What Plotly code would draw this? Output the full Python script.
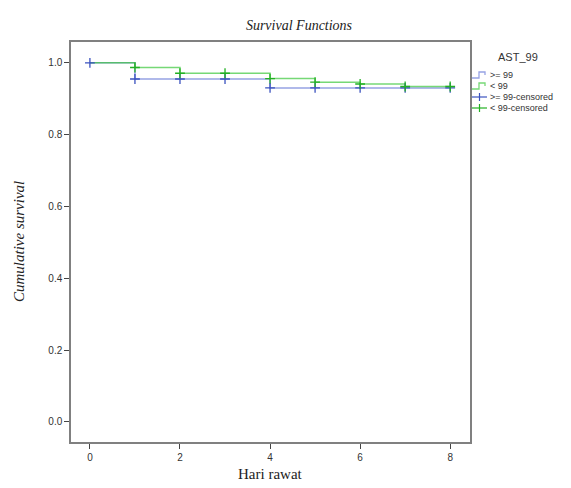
import plotly.graph_objects as go

# Data
blue_name = ">= 99"
green_name = "< 99"
blue_x = [0, 1, 4, 8]
blue_y = [1.0, 0.955, 0.930, 0.930]
green_x = [0, 1, 2, 4, 5, 6, 7, 8]
green_y = [1.0, 0.987, 0.971, 0.956, 0.946, 0.941, 0.934, 0.934]
blue_cens_x = [0, 1, 2, 3, 4, 5, 6, 7, 8]
blue_cens_y = [1.0, 0.955, 0.955, 0.955, 0.930, 0.930, 0.930, 0.930, 0.930]
green_cens_x = [1, 2, 3, 4, 5, 6, 7, 8]
green_cens_y = [0.987, 0.971, 0.971, 0.956, 0.946, 0.941, 0.934, 0.934]
x_ticks = [0, 2, 4, 6, 8]
y_ticks = [0.0, 0.2, 0.4, 0.6, 0.8, 1.0]
legend_labels = [">= 99", "< 99", ">= 99-censored", "< 99-censored"]

BLUE_LINE = "rgba(80,100,210,0.6)"
GREEN_LINE = "rgba(60,200,60,0.7)"
BLUE_MK = "#3b52bf"
GREEN_MK = "#22b022"

fig = go.Figure()
fig.add_trace(go.Scatter(x=blue_x, y=blue_y, mode="lines", line=dict(shape="hv", color=BLUE_LINE, width=1.5),
                         name=blue_name, showlegend=False))
fig.add_trace(go.Scatter(x=green_x, y=green_y, mode="lines", line=dict(shape="hv", color=GREEN_LINE, width=1.5),
                         name=green_name, showlegend=False))
fig.add_trace(go.Scatter(x=blue_cens_x, y=blue_cens_y, mode="markers",
                         marker=dict(symbol="cross-thin", size=7, line=dict(color=BLUE_MK, width=1.3)),
                         name=legend_labels[2], showlegend=False))
fig.add_trace(go.Scatter(x=green_cens_x, y=green_cens_y, mode="markers",
                         marker=dict(symbol="cross-thin", size=7, line=dict(color=GREEN_MK, width=1.3)),
                         name=legend_labels[3], showlegend=False))

OFF = 8  # page body margin
W, H = 571 - OFF, 488 - OFF
# plot area in page pixels: x 71..470, y 42..442
L, T = 71 - OFF, 42 - OFF
R = W - (470 - OFF)
B = H - (442 - OFF)
pw, ph = W - L - R, H - T - B

def px(xp):
    return (xp - OFF - L) / pw

def py(yp):
    return (H - B - (yp - OFF)) / ph

tick_font = dict(family="Liberation Sans, Arial", size=10, color="#333")
axis_common = dict(showline=True, linecolor="#808080", linewidth=1.5, mirror=True,
                   ticks="outside", ticklen=5, tickcolor="#444", tickwidth=1.2,
                   showgrid=False, zeroline=False, tickfont=tick_font)

fig.update_layout(
    width=W, height=H,
    margin=dict(l=L, r=R, t=T, b=B),
    paper_bgcolor="white", plot_bgcolor="white",
    title=dict(text="<i>Survival Functions</i>", x=(299 - OFF) / W, xanchor="center",
               y=1 - (25 - OFF) / H, yanchor="middle", yref="container",
               font=dict(family="Liberation Serif, Times New Roman", size=14, color="#222")),
    xaxis=dict(range=[-0.42, 8.44], tickvals=x_ticks, **axis_common),
    yaxis=dict(range=[-0.056, 1.058], tickvals=y_ticks, tickformat=".1f", **axis_common),
)

annotations = [
    dict(text="<i>Cumulative survival</i>", x=px(19), y=0.5, xref="paper", yref="paper",
         textangle=-90, showarrow=False, xanchor="center", yanchor="middle",
         font=dict(family="Liberation Serif, Times New Roman", size=15, color="#222")),
    dict(text="Hari rawat", x=px(270), y=py(474), xref="paper", yref="paper",
         showarrow=False, xanchor="center", yanchor="middle",
         font=dict(family="Liberation Serif, Times New Roman", size=15, color="#222")),
    dict(text="AST_99", x=px(518), y=py(57), xref="paper", yref="paper",
         showarrow=False, xanchor="center", yanchor="middle",
         font=dict(family="Liberation Sans, Arial", size=11, color="#333")),
]

shapes = []
item_y = [75, 86, 97, 108]
colors = [BLUE_LINE, GREEN_LINE, BLUE_MK, GREEN_MK]
for i, (lab, yy, c) in enumerate(zip(legend_labels, item_y, colors)):
    annotations.append(dict(text=lab, x=px(488), y=py(yy), xref="paper", yref="paper",
                            showarrow=False, xanchor="left", yanchor="middle",
                            font=dict(family="Liberation Sans, Arial", size=9, color="#333")))
    if i < 2:
        x0 = 472
        path = (f"M {px(x0)},{py(yy + 3)} L {px(x0 + 7)},{py(yy + 3)} L {px(x0 + 7)},{py(yy - 3)} "
                f"L {px(x0 + 13)},{py(yy - 3)} L {px(x0 + 13)},{py(yy)}")
        shapes.append(dict(type="path", path=path, xref="paper", yref="paper",
                           line=dict(color=c, width=1.3)))
    else:
        shapes.append(dict(type="line", x0=px(472), x1=px(487), y0=py(yy), y1=py(yy),
                           xref="paper", yref="paper", line=dict(color=c, width=1.2)))
        shapes.append(dict(type="line", x0=px(479.5), x1=px(479.5), y0=py(yy - 4), y1=py(yy + 4),
                           xref="paper", yref="paper", line=dict(color=c, width=1.2)))

fig.update_layout(annotations=annotations, shapes=shapes)
fig.write_html("out.html")
